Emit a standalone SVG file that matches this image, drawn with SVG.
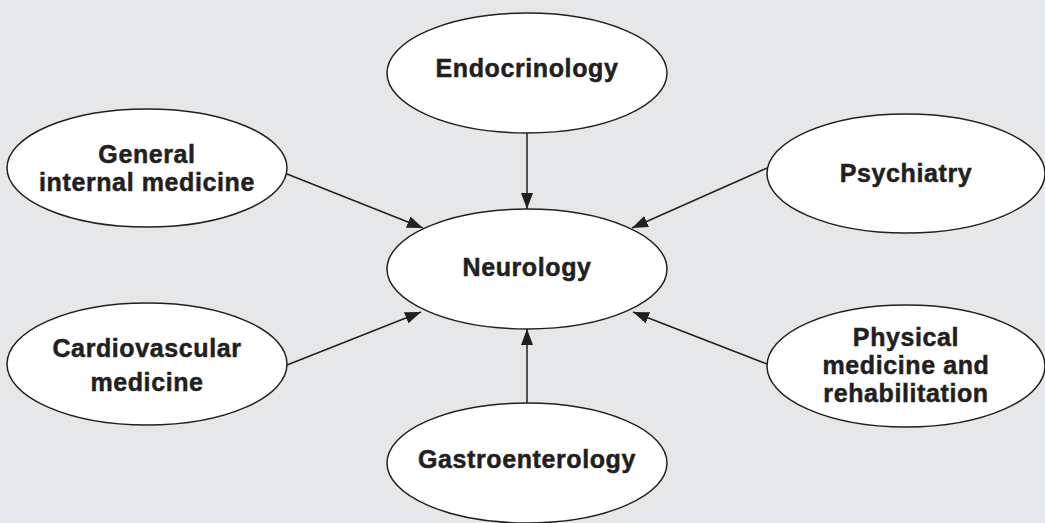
<svg xmlns="http://www.w3.org/2000/svg" width="1045" height="523" viewBox="0 0 1045 523">
<style>
.n ellipse{fill:#ffffff;stroke:#231f20;stroke-width:1.5}
.n text{font-family:"Liberation Sans",Arial,sans-serif;font-weight:bold;font-size:25px;letter-spacing:0.6px;fill:#231f20;stroke:#231f20;stroke-width:0.5;text-anchor:middle}
.c line{stroke:#231f20;stroke-width:1.5;marker-end:url(#ah)}
</style>
<defs>
<marker id="ah" viewBox="0 0 16 12" refX="16" refY="6" markerWidth="16" markerHeight="12" markerUnits="userSpaceOnUse" orient="auto">
<path d="M0,0 L16,6 L0,12 Z" fill="#231f20"/>
</marker>
</defs>
<rect width="1045" height="523" fill="#e6e7e8"/>
<g class="c">
<line x1="527" y1="133" x2="527" y2="209"/>
<line x1="527" y1="403" x2="527" y2="329"/>
<line x1="287" y1="174" x2="423" y2="228"/>
<line x1="767" y1="168" x2="632" y2="228"/>
<line x1="287" y1="365" x2="421" y2="312"/>
<line x1="767" y1="364" x2="633" y2="312"/>
</g>
<g id="endocrinology" class="n"><ellipse cx="527" cy="73" rx="140" ry="60"/><text x="527" y="77">Endocrinology</text></g>
<g id="general" class="n"><ellipse cx="147" cy="168" rx="140" ry="59"/><text x="147" y="163">General</text><text x="147" y="191">internal medicine</text></g>
<g id="psychiatry" class="n"><ellipse cx="906" cy="173.5" rx="139" ry="59.5"/><text x="906" y="182">Psychiatry</text></g>
<g id="neurology" class="n"><ellipse cx="527" cy="269" rx="140" ry="60"/><text x="527" y="276">Neurology</text></g>
<g id="cardio" class="n"><ellipse cx="147" cy="364" rx="140" ry="61"/><text x="147" y="357">Cardiovascular</text><text x="147" y="391">medicine</text></g>
<g id="physical" class="n"><ellipse cx="906" cy="366" rx="139" ry="61"/><text x="906" y="346">Physical</text><text x="906" y="374">medicine and</text><text x="906" y="402">rehabilitation</text></g>
<g id="gastro" class="n"><ellipse cx="527" cy="463" rx="140" ry="60"/><text x="527" y="468">Gastroenterology</text></g>
</svg>
